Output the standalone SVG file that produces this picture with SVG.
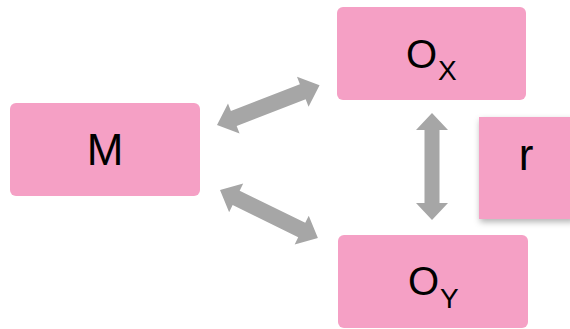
<svg xmlns="http://www.w3.org/2000/svg" width="570" height="329" viewBox="0 0 570 329">
<style>
.box{fill:#F5A0C5;}
.lbl{font-family:"Liberation Sans",Arial,sans-serif;fill:#000;}
.arr{fill:#A6A6A6;}
</style>
<defs>
<filter id="sh" x="-20%" y="-20%" width="140%" height="140%">
<feDropShadow dx="1" dy="3" stdDeviation="3" flood-color="#000" flood-opacity="0.3"/>
</filter>
</defs>
<rect width="570" height="329" fill="#fff"/>
<g id="connectors">
<polygon class="arr" transform="translate(217,125) rotate(-21.2)" points="0,0 18,-16 18,-8 92,-8 92,-16 110,0 92,16 92,8 18,8 18,16"/>
<polygon class="arr" transform="translate(220,190) rotate(26.1)" points="0,0 18,-16 18,-8 91,-8 91,-16 109,0 91,16 91,8 18,8 18,16"/>
<polygon class="arr" transform="translate(432,113) rotate(90)" points="0,0 17,-16 17,-7.5 90,-7.5 90,-16 107,0 90,16 90,7.5 17,7.5 17,16"/>
</g>
<g id="node-M">
<rect class="box" x="10" y="103" width="190" height="93" rx="6"/>
<text class="lbl" x="105" y="165" font-size="44" text-anchor="middle">M</text>
</g>
<g id="node-Ox">
<rect class="box" x="337" y="7" width="189" height="93" rx="6"/>
<text class="lbl" x="406" y="68" font-size="40">O</text>
<text class="lbl" x="438" y="80" font-size="28">X</text>
</g>
<g id="node-Oy">
<rect class="box" x="338" y="235" width="190" height="93" rx="6"/>
<text class="lbl" x="408" y="295" font-size="40">O</text>
<text class="lbl" x="440" y="308" font-size="28">Y</text>
</g>
<g id="node-r">
<rect class="box" x="479" y="117" width="95" height="102" filter="url(#sh)"/>
<text class="lbl" x="526" y="170" font-size="44" text-anchor="middle">r</text>
</g>
</svg>
